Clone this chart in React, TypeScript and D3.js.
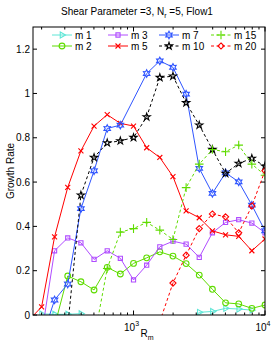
import React from "react";
import { scaleLog, scaleLinear, line, symbol, symbolCircle, symbolSquare2, symbolDiamond2, symbolPlus, symbolTimes, symbolStar, symbolTriangle2 } from "d3";

// Rm sample points (log spaced) and growth rates
const rm = [158, 200, 251, 316, 398, 501, 631, 794, 1000, 1259, 1585, 1995, 2512, 3162, 3981, 5012, 6310, 7943, 10000];

const m1 = [null, 0.005, 0.003, 0.003, 0.006, -0.05, -0.05, -0.05, -0.05, -0.05, -0.05, -0.05, -0.05, 0.012, 0.016, 0.03, 0.027, 0.022, null];
const m2 = [null, null, -0.05, 0.176, 0.15, 0.113, 0.215, 0.185, 0.233, 0.258, 0.285, 0.266, 0.232, 0.18, 0.116, 0.055, 0.05, 0.03, 0.045];
const m3 = [null, -0.09, 0.29, 0.348, 0.326, 0.251, 0.29, 0.256, 0.158, 0.225, 0.308, 0.333, 0.32, 0.26, 0.371, 0.418, 0.43, 0.415, 0.371];
const m5 = [-0.027, 0.037, 0.353, 0.576, 0.741, 0.853, 0.904, 0.865, 0.853, 0.755, 0.711, 0.625, 0.47, 0.439, 0.38, 0.362, 0.355, 0.29, 0.343];
const m7 = [null, -0.11, 0.068, 0.14, 0.48, 0.651, 0.842, 0.857, null, 1.09, 1.147, 1.118, 0.997, 0.662, 0.549, 0.642, 0.601, 0.496, 0.38];
const m10 = [null, null, null, -0.05, 0.541, 0.711, 0.777, 0.786, 0.801, 0.894, 1.072, 1.078, 0.958, 0.857, 0.747, 0.639, 0.684, 0.707, 0.672];
const m15 = [null, null, null, null, null, -0.11, 0.21, 0.374, 0.39, 0.418, 0.383, 0.341, 0.575, 0.681, 0.747, 0.737, 0.767, 0.681, 0.631];
const m20 = [null, null, null, null, null, null, null, null, null, null, -0.03, 0.144, 0.27, 0.39, 0.456, 0.443, 0.371, 0.492, 0.651];

const yTicks = [0, 0.2, 0.4, 0.6, 0.8, 1, 1.2];
const xMinor = [200, 300, 400, 500, 600, 700, 800, 900, 2000, 3000, 4000, 5000, 6000, 7000, 8000, 9000];
const xMajor = [1000, 10000];

// six pointed star (matlab hexagram)
const symbolHexagram = {
  draw(ctx: any, size: number) {
    const r = Math.sqrt(size) * 0.62;
    const ri = r * 0.55;
    for (let i = 0; i < 12; i++) {
      const a = (i * Math.PI) / 6 - Math.PI / 2;
      const rr = i % 2 === 0 ? r : ri;
      const px = rr * Math.cos(a);
      const py = rr * Math.sin(a);
      if (i === 0) ctx.moveTo(px, py);
      else ctx.lineTo(px, py);
    }
    ctx.closePath();
  },
};

const series = [
  { name: "m 1", data: m1, color: "#5ee6d6", dash: "", sym: symbolTriangle2, size: 26, rot: 90 },
  { name: "m 2", data: m2, color: "#5fdc00", dash: "", sym: symbolCircle, size: 26, rot: 0 },
  { name: "m 3", data: m3, color: "#b04cff", dash: "", sym: symbolSquare2, size: 22, rot: 0 },
  { name: "m 5", data: m5, color: "#ff0000", dash: "", sym: symbolTimes, size: 18, rot: 0 },
  { name: "m 7", data: m7, color: "#2f55ff", dash: "", sym: symbolHexagram, size: 36, rot: 0 },
  { name: "m 10", data: m10, color: "#000000", dash: "3,2.5", sym: symbolStar, size: 16, rot: 0 },
  { name: "m 15", data: m15, color: "#5fdc00", dash: "3,2.5", sym: symbolPlus, size: 26, rot: 0 },
  { name: "m 20", data: m20, color: "#ff0000", dash: "3,2.5", sym: symbolDiamond2, size: 24, rot: 0 },
];

// legend order: 4 columns, 2 rows
const legendOrder = ["m 1", "m 3", "m 7", "m 15", "m 2", "m 5", "m 10", "m 20"];

const Marker = ({ s, x, y }: any) => (
  <path
    d={symbol(s.sym, s.size)() as string}
    transform={`translate(${x},${y}) rotate(${s.rot})`}
    fill="none"
    stroke={s.color}
    strokeWidth={1.1}
  />
);

export default function App() {
  const left = 33, right = 265, top = 27, bottom = 315;
  const font = "'Liberation Sans', Arial, sans-serif";

  const x = scaleLog().domain([172, 10000]).range([left, right]);
  const y = scaleLinear().domain([0, 1.3]).range([bottom, top]);

  const legendCols = [52, 108, 159, 211];
  const legendRows = [35, 46];

  return (
    <svg width={274} height={350} style={{ position: "absolute", left: 0, top: 0, background: "#fff" }} fontFamily={font}>
      <defs>
        <clipPath id="plot">
          <rect x={left} y={top} width={right - left} height={bottom - top} />
        </clipPath>
      </defs>
      <rect width={274} height={350} fill="#fff" />

      <g clipPath="url(#plot)">
        {series.map((s) => {
          const pts = rm.map((r, i) => [r, s.data[i]]).filter((p) => p[1] !== null) as [number, number][];
          const path = line<[number, number]>()
            .x((d) => x(d[0]))
            .y((d) => y(d[1]))(pts);
          return (
            <g key={s.name}>
              <path d={path as string} fill="none" stroke={s.color} strokeWidth={1} strokeDasharray={s.dash} />
              {pts.map((p, i) => (
                <Marker key={i} s={s} x={x(p[0])} y={y(p[1])} />
              ))}
            </g>
          );
        })}
      </g>

      {/* box */}
      <rect x={left} y={top} width={right - left} height={bottom - top} fill="none" stroke="#000" strokeWidth={1} />

      {/* y ticks */}
      {yTicks.map((t) => (
        <g key={t}>
          <line x1={left} x2={left + 4} y1={y(t)} y2={y(t)} stroke="#000" />
          <line x1={right} x2={right - 4} y1={y(t)} y2={y(t)} stroke="#000" />
          <text x={left - 3} y={y(t) + 3.5} fontSize={10} textAnchor="end">
            {t}
          </text>
        </g>
      ))}

      {/* x ticks */}
      {xMinor.map((t) => (
        <g key={t}>
          <line x1={x(t)} x2={x(t)} y1={bottom} y2={bottom - 2.5} stroke="#000" />
          <line x1={x(t)} x2={x(t)} y1={top} y2={top + 2.5} stroke="#000" />
        </g>
      ))}
      {xMajor.map((t) => (
        <g key={t}>
          <line x1={x(t)} x2={x(t)} y1={bottom} y2={bottom - 4.5} stroke="#000" />
          <line x1={x(t)} x2={x(t)} y1={top} y2={top + 4.5} stroke="#000" />
          <text x={x(t) - 2} y={331} fontSize={10} textAnchor="middle">
            10
            <tspan fontSize={7} dy={-5}>
              {Math.round(Math.log10(t))}
            </tspan>
          </text>
        </g>
      ))}

      {/* legend */}
      {legendOrder.map((name, k) => {
        const s = series.find((d) => d.name === name)!;
        const lx = legendCols[k % 4];
        const ly = legendRows[Math.floor(k / 4)];
        return (
          <g key={name}>
            <line x1={lx} x2={lx + 20} y1={ly} y2={ly} stroke={s.color} strokeDasharray={s.dash} />
            <Marker s={s} x={lx + 10} y={ly} />
            <text x={lx + 23} y={ly + 3.5} fontSize={10}>
              {name}
            </text>
          </g>
        );
      })}

      {/* title */}
      <text x={137} y={15} fontSize={10} textAnchor="middle">
        Shear Parameter =3, N<tspan fontSize={7} dy={3}>r</tspan>
        <tspan dy={-3}> =5, Flow1</tspan>
      </text>

      {/* axis labels */}
      <text x={147} y={337} fontSize={10} textAnchor="middle">
        R<tspan fontSize={7} dy={3}>m</tspan>
      </text>
      <text transform="translate(14,171) rotate(-90)" fontSize={10} textAnchor="middle">
        Growth Rate
      </text>
    </svg>
  );
}
